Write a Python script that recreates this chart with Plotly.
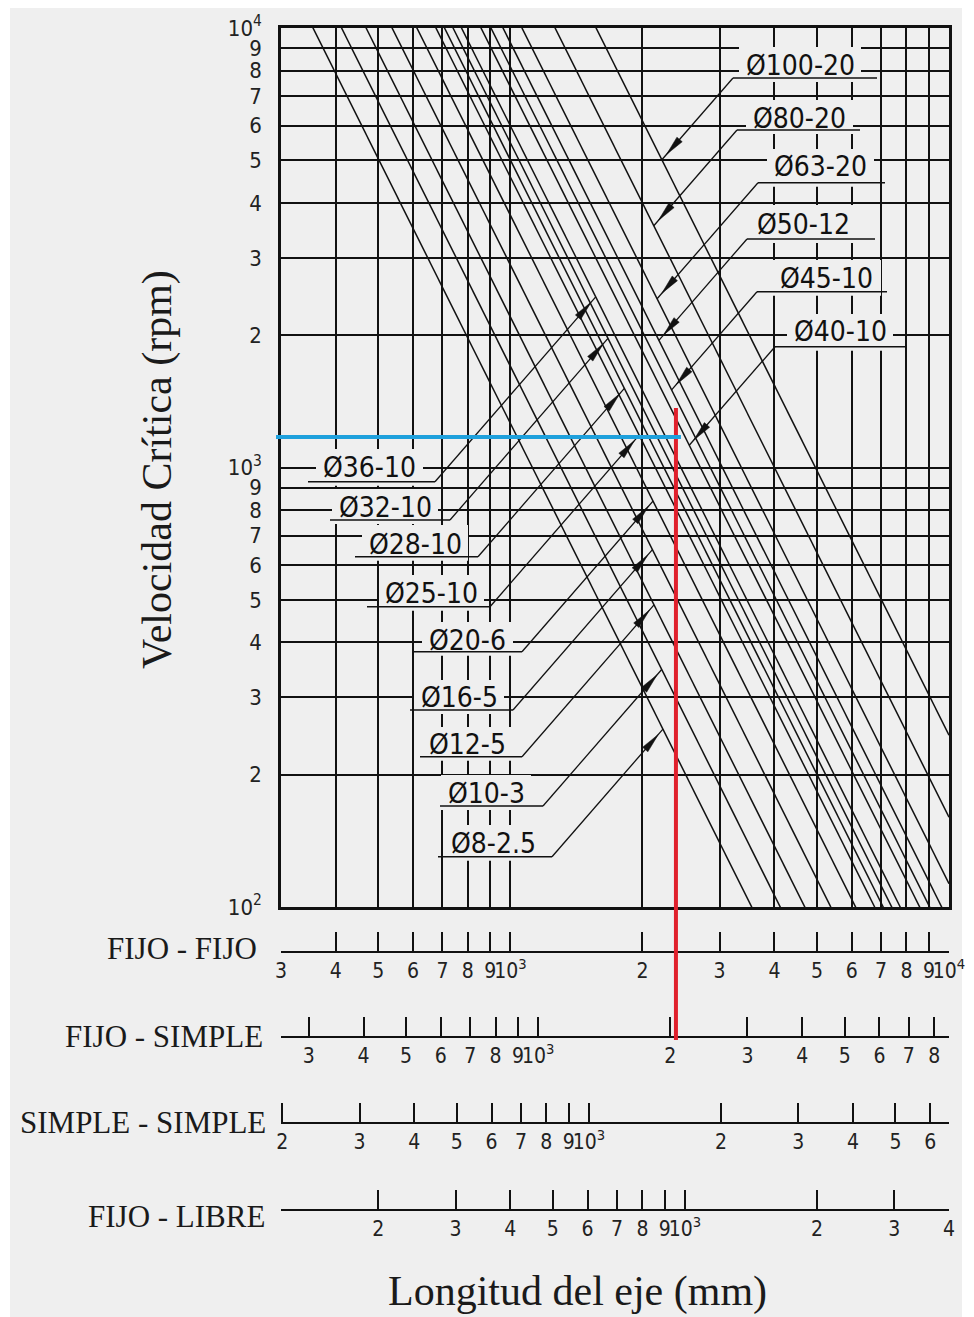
import math
import plotly.graph_objects as go

# ---------------- data ----------------
screw_labels = ["Ø8-2.5", "Ø10-3", "Ø12-5", "Ø16-5", "Ø20-6", "Ø25-10", "Ø28-10",
                "Ø32-10", "Ø36-10", "Ø40-10", "Ø45-10", "Ø50-12", "Ø63-20", "Ø80-20", "Ø100-20"]
# critical speed (rpm) of each screw at 1000 mm shaft length (FIJO - FIJO scale)
speed_at_1000mm_rpm = [1260, 1700, 2200, 2890, 3750, 4580, 5010,
                       5480, 5990, 7350, 8160, 9260, 11300, 16000, 24600]

length_ticks_mm = [300, 400, 500, 600, 700, 800, 900, 1000,
                   2000, 3000, 4000, 5000, 6000, 7000, 8000, 9000, 10000]
speed_ticks_rpm = [100, 200, 300, 400, 500, 600, 700, 800, 900, 1000,
                   2000, 3000, 4000, 5000, 6000, 7000, 8000, 9000, 10000]
speed_tick_text = ["10<sup>2</sup>", "2", "3", "4", "5", "6", "7", "8", "9", "10<sup>3</sup>",
                   "2", "3", "4", "5", "6", "7", "8", "9", "10<sup>4</sup>"]

mount_names = ["FIJO - FIJO", "FIJO - SIMPLE", "SIMPLE - SIMPLE", "FIJO - LIBRE"]
# length on the FIJO-FIJO scale divided by length on each mounting scale
mount_length_factor = [1.0, 1.157, 1.51, 2.5]
ff_ticks = [300, 400, 500, 600, 700, 800, 900, 1000, 2000, 3000, 4000, 5000, 6000, 7000, 8000, 9000, 10000]
ff_text = ["3", "4", "5", "6", "7", "8", "9", "10<sup>3</sup>", "2", "3", "4", "5", "6", "7", "8", "9", "10<sup>4</sup>"]
fs_ticks = [300, 400, 500, 600, 700, 800, 900, 1000, 2000, 3000, 4000, 5000, 6000, 7000, 8000]
fs_text = ["3", "4", "5", "6", "7", "8", "9", "10<sup>3</sup>", "2", "3", "4", "5", "6", "7", "8"]
ss_ticks = [200, 300, 400, 500, 600, 700, 800, 900, 1000, 2000, 3000, 4000, 5000, 6000]
ss_text = ["2", "3", "4", "5", "6", "7", "8", "9", "10<sup>3</sup>", "2", "3", "4", "5", "6"]
fl_ticks = [200, 300, 400, 500, 600, 700, 800, 900, 1000, 2000, 3000, 4000]
fl_text = ["2", "3", "4", "5", "6", "7", "8", "9", "10<sup>3</sup>", "2", "3", "4"]
mount_ticks = [ff_ticks, fs_ticks, ss_ticks, fl_ticks]
mount_text = [ff_text, fs_text, ss_text, fl_text]

example_length_mm = 2385     # red line (FIJO - FIJO length)
example_speed_rpm = 1173     # blue line

# ---------------- layout / style (positions in reference-picture pixels) ----------------
W, H = 974, 1317
OFF = 8                                # page body margin of the html page
FW, FH = W - 2 * OFF, H - OFF          # figure reaches the bottom edge of the window
PLOT_LEFT, PLOT_RIGHT = 281, 949       # plotting area in picture pixels
PLOT_TOP, PLOT_BOTTOM = 28, 1307
MAIN_BOTTOM_PX = 907
MAIN_TOP_PX = 28
ML = PLOT_LEFT - OFF
MT = PLOT_TOP - OFF
MR = FW - (PLOT_RIGHT - OFF)
MB = FH - (PLOT_BOTTOM - OFF)
PW = FW - ML - MR                      # 668
PH = FH - MT - MB                      # 1279
X_LO, X_HI = math.log10(300), 4.0
Y_LO, Y_HI = 2.0, 4.0
DOM_BOTTOM = (PLOT_BOTTOM - MAIN_BOTTOM_PX) / PH

BG = "#efefef"
INK = "#111111"
TICK_FONT = "DejaVu Sans Condensed, Liberation Sans Narrow, Arial Narrow, Liberation Sans, sans-serif"
SERIF = "Liberation Serif, Times New Roman, serif"

AXIS_LINE_PX = [952, 1036.7, 1123, 1210]          # y of each mounting scale line
ROW_LABEL_POS = [(259, 948), (265, 1036), (268, 1122), (267, 1216)]

# text_left, text_right, cap_top, baseline, underline_y, ul_left, ul_right, side
LABEL_LAYOUT = {
    "Ø100-20": (745, 855, 55, 77, 78, 733, 877, "up"),
    "Ø80-20": (752, 847, 108, 128, 130, 737, 860, "up"),
    "Ø63-20": (773, 868, 157, 177, 182.7, 758, 885, "up"),
    "Ø50-12": (757, 850, 213, 235, 239, 747, 875, "up"),
    "Ø45-10": (778, 875, 268, 288, 291.7, 757, 887, "up"),
    "Ø40-10": (793, 887, 322, 342, 346.7, 775, 907, "up"),
    "Ø36-10": (322, 417, 457, 478, 481.7, 308, 435, "down"),
    "Ø32-10": (338, 432, 497, 518, 520, 330, 450, "down"),
    "Ø28-10": (368, 462, 533, 555, 556.7, 355, 478, "down"),
    "Ø25-10": (385, 478, 583, 603, 606.7, 367, 490, "down"),
    "Ø20-6": (428, 507, 630, 650, 651.7, 413, 522, "down"),
    "Ø16-5": (420, 498, 688, 708, 710, 410, 513, "down"),
    "Ø12-5": (428, 507, 735, 753, 756.7, 420, 522, "down"),
    "Ø10-3": (447, 525, 783, 803, 806, 440, 543, "down"),
    "Ø8-2.5": (450, 537, 833, 853, 856.7, 438, 552, "down"),
}
LEADER_SLOPE = 1.15


def pp(px, py):
    """picture pixel -> paper coordinates"""
    return (px - PLOT_LEFT) / PW, (PLOT_BOTTOM - py) / PH


def data_px(L, N):
    px = PLOT_LEFT + (math.log10(L) - X_LO) / (X_HI - X_LO) * PW
    py = MAIN_BOTTOM_PX - (math.log10(N) - Y_LO) / (Y_HI - Y_LO) * (MAIN_BOTTOM_PX - MAIN_TOP_PX)
    return px, py


def line_py(px, n1000):
    logL = X_LO + (px - PLOT_LEFT) / PW * (X_HI - X_LO)
    logN = math.log10(n1000) + 6 - 2 * logL
    return MAIN_BOTTOM_PX - (logN - Y_LO) / (Y_HI - Y_LO) * (MAIN_BOTTOM_PX - MAIN_TOP_PX)


def leader_hit(px0, py0, s, n1000, k=LEADER_SLOPE):
    def g(t):
        return line_py(px0 + s * t, n1000) - (py0 - s * k * t)
    g0, g1 = g(0.0), g(1.0)
    t = -g0 / (g1 - g0)
    return px0 + s * t, py0 - s * k * t


fig = go.Figure()

# critical speed lines
for lab, n in zip(screw_labels, speed_at_1000mm_rpm):
    xs = [300, 10000]
    ys = [n * (1000.0 / x) ** 2 for x in xs]
    fig.add_trace(go.Scatter(x=xs, y=ys, mode="lines", name=lab,
                             line=dict(color=INK, width=1.5),
                             hoverinfo="skip", showlegend=False,
                             xaxis="x", yaxis="y"))

# dummy traces so the mounting scales are drawn
for i, f in enumerate(mount_length_factor):
    fig.add_trace(go.Scatter(x=[1000.0 / f], y=[0.5], xaxis="x%d" % (3 + i), yaxis="y2",
                             mode="markers", marker=dict(opacity=0, size=1),
                             hoverinfo="skip", showlegend=False))

shapes = []
annotations = []

# white outer border
for (x0, y0, x1, y1) in [(0, 0, 10, H + 20), (962, 0, W + 20, H + 20), (0, 0, W + 20, 6)]:
    a = pp(x0, y0); b = pp(x1, y1)
    shapes.append(dict(type="rect", xref="paper", yref="paper", x0=a[0], y0=a[1], x1=b[0], y1=b[1],
                       fillcolor="white", line=dict(width=0), layer="below"))

# label masks
for lab in screw_labels:
    tl, tr, ct, bl, uy, ul, ur, side = LABEL_LAYOUT[lab]
    a = pp(tl - 6, ct - 8); b = pp(tr + 6, uy + 4)
    shapes.append(dict(type="rect", xref="paper", yref="paper", x0=a[0], y0=a[1], x1=b[0], y1=b[1],
                       fillcolor=BG, line=dict(width=0), layer="above"))

# underlines, leaders, arrowheads, label text
for lab, n in zip(screw_labels, speed_at_1000mm_rpm):
    tl, tr, ct, bl, uy, ul, ur, side = LABEL_LAYOUT[lab]
    a = pp(ul, uy); b = pp(ur, uy)
    shapes.append(dict(type="line", xref="paper", yref="paper", x0=a[0], y0=a[1], x1=b[0], y1=b[1],
                       line=dict(color=INK, width=1.6), layer="above"))
    if side == "up":
        s, sx = -1, ul
    else:
        s, sx = 1, ur
    hx, hy = leader_hit(sx, uy, s, n)
    a = pp(sx, uy); b = pp(hx, hy)
    shapes.append(dict(type="line", xref="paper", yref="paper", x0=a[0], y0=a[1], x1=b[0], y1=b[1],
                       line=dict(color=INK, width=1.3), layer="above"))
    norm = math.hypot(1, LEADER_SLOPE)
    dx, dy = s / norm, -s * LEADER_SLOPE / norm
    nx, ny = LEADER_SLOPE / norm, 1 / norm
    tx, ty = hx - 7 * dx, hy - 7 * dy
    bx, by = tx - 20 * dx, ty - 20 * dy
    pts = [(tx, ty), (bx + 3.5 * nx, by + 3.5 * ny), (bx - 3.5 * nx, by - 3.5 * ny)]
    pts = [pp(*q) for q in pts]
    path = "M %f,%f L %f,%f L %f,%f Z" % (pts[0][0], pts[0][1], pts[1][0], pts[1][1], pts[2][0], pts[2][1])
    shapes.append(dict(type="path", xref="paper", yref="paper", path=path,
                       fillcolor=INK, line=dict(color=INK, width=0.5), layer="above"))
    cx, cy = pp((tl + tr) / 2, (ct + bl) / 2)
    annotations.append(dict(text=lab, x=cx, y=cy, xref="paper", yref="paper",
                            xanchor="center", yanchor="middle", showarrow=False,
                            font=dict(family=TICK_FONT, size=28, color=INK)))

# example lines (red: length, blue: speed)
rx, ry = data_px(example_length_mm, example_speed_rpm)
a = pp(rx, ry - 29); b = pp(rx, 1040)
shapes.append(dict(type="line", xref="paper", yref="paper", x0=a[0], y0=a[1], x1=b[0], y1=b[1],
                   line=dict(color="#e0202c", width=4), layer="above"))
a = pp(276, ry); b = pp(rx + 5, ry)
shapes.append(dict(type="line", xref="paper", yref="paper", x0=a[0], y0=a[1], x1=b[0], y1=b[1],
                   line=dict(color="#1ea0dc", width=4), layer="above"))

# mounting row labels
for name, (rxp, ryp) in zip(mount_names, ROW_LABEL_POS):
    x, y = pp(rxp, ryp)
    annotations.append(dict(text=name, x=x, y=y, xref="paper", yref="paper",
                            xanchor="right", yanchor="middle", showarrow=False,
                            font=dict(family=SERIF, size=31, color="#1a1a1a")))

# axis titles
x, y = pp(577, 1291)
annotations.append(dict(text="Longitud del eje (mm)", x=x, y=y, xref="paper", yref="paper",
                        xanchor="center", yanchor="middle", showarrow=False,
                        font=dict(family=SERIF, size=42, color="#1a1a1a")))
x, y = pp(157, 470)
annotations.append(dict(text="Velocidad Crítica (rpm)", x=x, y=y, xref="paper", yref="paper",
                        xanchor="center", yanchor="middle", showarrow=False, textangle=-90,
                        font=dict(family=SERIF, size=42, color="#1a1a1a")))

PAD = 1e-5
layout = dict(
    width=FW, height=FH,
    margin=dict(l=ML, r=MR, t=MT, b=MB, pad=0, autoexpand=False),
    paper_bgcolor=BG, plot_bgcolor=BG,
    hovermode=False, showlegend=False,
    xaxis=dict(type="log", range=[X_LO - PAD, X_HI + PAD], domain=[0, 1], anchor="y",
               automargin=False,
               tickmode="array", tickvals=length_ticks_mm, showticklabels=False, ticks="",
               showgrid=True, gridcolor=INK, gridwidth=1.6,
               showline=True, linecolor=INK, linewidth=2.5, mirror=True, zeroline=False),
    yaxis=dict(type="log", range=[Y_LO - PAD, Y_HI + PAD], domain=[DOM_BOTTOM, 1], anchor="x",
               automargin=False,
               tickmode="array", tickvals=speed_ticks_rpm, ticktext=speed_tick_text, ticks="",
               ticklabelstandoff=12,
               tickfont=dict(family=TICK_FONT, size=22, color="#222"),
               showgrid=True, gridcolor=INK, gridwidth=1.6,
               showline=True, linecolor=INK, linewidth=2.5, mirror=True, zeroline=False),
    yaxis2=dict(domain=[0, DOM_BOTTOM], range=[0, 1], visible=False, anchor="x3",
                fixedrange=True, automargin=False),
    shapes=shapes,
    annotations=annotations,
)

for i, f in enumerate(mount_length_factor):
    key = "xaxis%d" % (3 + i)
    ax = dict(type="log",
              range=[math.log10(300 / f) - PAD, math.log10(10000 / f) + PAD],
              domain=[0, 1], anchor="free", position=(PLOT_BOTTOM - AXIS_LINE_PX[i]) / PH,
              side="bottom", tickangle=0, automargin=False,
              tickmode="array", tickvals=mount_ticks[i], ticktext=mount_text[i],
              ticks="inside", ticklen=19, tickwidth=1.6, tickcolor=INK,
              tickfont=dict(family=TICK_FONT, size=21, color="#222"),
              showline=True, linecolor=INK, linewidth=2, showgrid=False, zeroline=False)
    if i > 0:
        ax["overlaying"] = "x3"
    layout[key] = ax

fig.update_layout(**layout)
fig.write_html("out.html")
